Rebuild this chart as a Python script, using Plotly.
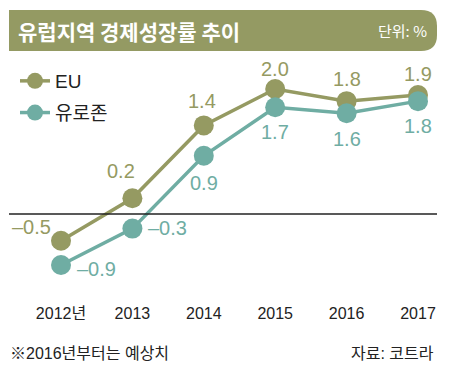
import plotly.graph_objects as go

years = ["2012년", "2013", "2014", "2015", "2016", "2017"]
eu = [-0.5, 0.2, 1.4, 2.0, 1.8, 1.9]
ez = [-0.9, -0.3, 0.9, 1.7, 1.6, 1.8]
series_names = ["EU", "유로존"]

EU_C = "#959a62"
EZ_C = "#6fada3"
OFF = 8  # browser default body margin
W, H = 451 - OFF, 385 - OFF
NUM_FONT = "Liberation Sans, Noto Sans CJK KR"
KR_FONT = "Noto Sans CJK KR"

def px(x):
    return (x - OFF) / W

def py(y):
    return 1 - (y - OFF) / H

fig = go.Figure()
fig.add_trace(go.Scatter(x=years, y=eu, name=series_names[0], mode="lines+markers",
                         line=dict(color=EU_C, width=3.5), marker=dict(size=20, color=EU_C),
                         legendgroup="a"))
fig.add_trace(go.Scatter(x=years, y=ez, name=series_names[1], mode="lines+markers",
                         line=dict(color=EZ_C, width=3.5), marker=dict(size=20, color=EZ_C),
                         legendgroup="b"))

def fmt(v):
    s = f"{abs(v):.1f}"
    return ("\u2013" + s) if v < 0 else s

# label offsets (x shift, y shift, anchor)
eu_off = [(-30, 14, "center"), (-11, 27, "center"), (-2, 24, "center"), (0, 20, "center"), (0, 22, "center"), (0, 21, "center")]
ez_off = [(14, -4, "left"), (14, 1, "left"), (0, -27, "center"), (0, -25, "center"), (0, -26, "center"), (0, -25, "center")]

ann = []
for vals, offs, col in [(eu, eu_off, EU_C), (ez, ez_off, EZ_C)]:
    for i, (v, (dx, dy, anc)) in enumerate(zip(vals, offs)):
        ann.append(dict(x=i, y=v, xref="x", yref="y", text=fmt(v), showarrow=False,
                        xshift=dx, yshift=dy, xanchor=anc, yanchor="middle",
                        font=dict(family=NUM_FONT, size=20, color=col)))

# title bar
x0, x1, y0, y1, r = 9, 437, 10, 51, 16
path = (f"M {px(x0)} {py(y0)} L {px(x1 - r)} {py(y0)} "
        f"Q {px(x1)} {py(y0)} {px(x1)} {py(y0 + r)} "
        f"L {px(x1)} {py(y1 - r)} Q {px(x1)} {py(y1)} {px(x1 - r)} {py(y1)} "
        f"L {px(x0)} {py(y1)} Z")
shapes = [
    dict(type="path", xref="paper", yref="paper", path=path, fillcolor="#949a63", line=dict(width=0), layer="below"),
    dict(type="line", xref="paper", yref="paper", x0=px(9), x1=px(437), y0=py(214), y1=py(214),
         line=dict(color="#222222", width=1.3)),
]

ann.append(dict(x=px(16), y=py(31), xref="paper", yref="paper", text="유럽지역 경제성장률 추이",
                showarrow=False, xanchor="left", yanchor="middle",
                font=dict(family=KR_FONT, size=21, color="white", weight="bold")))
ann.append(dict(x=px(429), y=py(31), xref="paper", yref="paper", text="단위: %",
                showarrow=False, xanchor="right", yanchor="middle",
                font=dict(family=KR_FONT, size=15, color="white")))
ann.append(dict(x=px(8), y=py(353), xref="paper", yref="paper", text="※2016년부터는 예상치",
                showarrow=False, xanchor="left", yanchor="middle",
                font=dict(family=NUM_FONT, size=16, color="#222222")))
ann.append(dict(x=px(436), y=py(353), xref="paper", yref="paper", text="자료: 코트라",
                showarrow=False, xanchor="right", yanchor="middle",
                font=dict(family=NUM_FONT, size=16, color="#222222")))

scale = 60.7
zero_px = 210.4
sx = 71.4
x_first = 61
ybot_px = 302
fig.update_layout(
    width=W, height=H, margin=dict(l=0, r=0, t=0, b=0),
    paper_bgcolor="white", plot_bgcolor="white",
    xaxis=dict(type="category", range=[-(x_first - OFF) / sx, -(x_first - OFF) / sx + W / sx],
               showgrid=False, zeroline=False, showline=False, ticks="",
               tickfont=dict(family=NUM_FONT, size=16, color="#222222"), fixedrange=True),
    yaxis=dict(domain=[1 - (ybot_px - OFF) / H, 1],
               range=[(zero_px - ybot_px) / scale, (zero_px - OFF) / scale],
               showgrid=False, zeroline=False, showticklabels=False, showline=False),
    showlegend=True,
    legend=dict(x=px(15), y=py(62), xanchor="left", yanchor="top", tracegroupgap=4,
                font=dict(family=NUM_FONT, size=19, color="#222222"), bgcolor="rgba(0,0,0,0)"),
    shapes=shapes, annotations=ann,
)
fig.write_html("out.html")
